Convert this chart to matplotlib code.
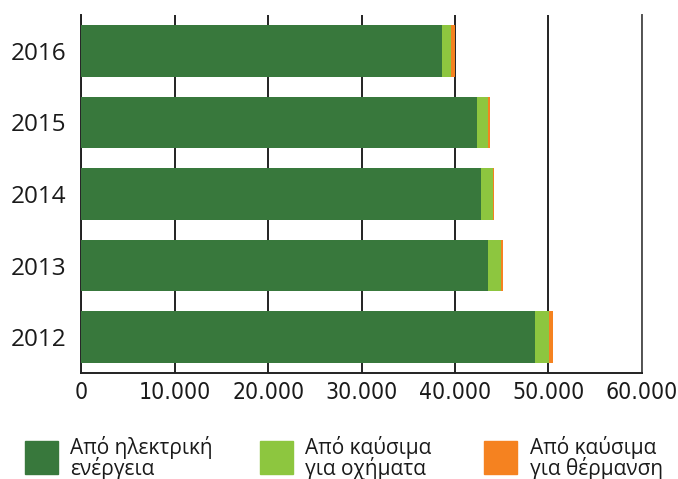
import matplotlib
matplotlib.use("Agg")
import matplotlib.pyplot as plt
from matplotlib.patches import Rectangle
from matplotlib import font_manager

years = ["2012", "2013", "2014", "2015", "2016"]
electric = [48550, 43500, 42800, 42350, 38600]
vehicles = [1550, 1400, 1250, 1150, 1000]
heating = [350, 200, 100, 300, 450]
xticks = [0, 10000, 20000, 30000, 40000, 50000, 60000]
xticklabels = ["0", "10.000", "20.000", "30.000", "40.000", "50.000", "60.000"]
legend_lines = [("Από ηλεκτρική", "ενέργεια"),
                ("Από καύσιμα", "για οχήματα"),
                ("Από καύσιμα", "για θέρμανση")]

c_dark = "#38783C"
c_light = "#8DC63F"
c_orange = "#F58220"
colors = [c_dark, c_light, c_orange]

# pick a condensed font for x tick labels if available
names = {f.name for f in font_manager.fontManager.ttflist}
cond_stretch = {(f.name, f.stretch) for f in font_manager.fontManager.ttflist}
xfont = dict(family=["DejaVu Sans"], fontsize=13.5)
if "Liberation Sans Narrow" in names:
    xfont = dict(family=["Liberation Sans Narrow", "DejaVu Sans"], fontsize=17.5)
elif "DejaVu Sans Condensed" in names:
    xfont = dict(family=["DejaVu Sans Condensed"], fontsize=16.5)
elif any(n == "DejaVu Sans" and s == "condensed" for n, s in cond_stretch):
    xfont = dict(family=["DejaVu Sans"], fontstretch="condensed", fontsize=16.5)
elif "Roboto Condensed" in names:
    xfont = dict(family=["Roboto Condensed"], fontsize=17.5)

W, H = 678, 479
fig = plt.figure(figsize=(W / 100, H / 100), dpi=100)
ax = fig.add_axes([81.3 / W, 1 - 373 / H, (641.7 - 81.3) / W, (373 - 15) / H])

pos = list(range(len(years)))
left2 = [a + b for a, b in zip(electric, vehicles)]
ax.barh(pos, electric, height=0.72, color=c_dark, zorder=3)
ax.barh(pos, vehicles, left=electric, height=0.72, color=c_light, zorder=3)
ax.barh(pos, heating, left=left2, height=0.72, color=c_orange, zorder=3)

ax.set_xlim(0, 60000)
ax.set_ylim(-0.5, 4.5)
ax.set_xticks(xticks)
ax.set_xticklabels(xticklabels, color="#1a1a1a", **xfont)
ax.set_yticks(pos)
ax.set_yticklabels(years, family=["Open Sans", "DejaVu Sans"], fontsize=17.5, color="#1a1a1a")
ax.tick_params(axis="y", length=0, pad=11)
ax.tick_params(axis="x", length=0, pad=6)
ax.xaxis.grid(True, color="#222222", linewidth=1.4, zorder=0)
ax.set_axisbelow(True)
ax.spines["top"].set_visible(False)
ax.spines["right"].set_color("#555555")
ax.spines["right"].set_linewidth(1.4)
for s in ["left", "bottom"]:
    ax.spines[s].set_color("#222222")
    ax.spines[s].set_linewidth(1.4)

sq_x = [25, 260, 484]
tx_x = [70, 305, 530]
for i, (l1, l2) in enumerate(legend_lines):
    fig.patches.append(Rectangle((sq_x[i] / W, 1 - 474 / H), 33 / W, 33 / H,
                                 transform=fig.transFigure, color=colors[i]))
    fig.text(tx_x[i] / W, 1 - 475 / H, l1 + "\n" + l2, family=["Open Sans", "DejaVu Sans"],
             fontsize=15, linespacing=0.88, va="baseline", ha="left", color="#1a1a1a")

fig.savefig("out.png", dpi=100)
